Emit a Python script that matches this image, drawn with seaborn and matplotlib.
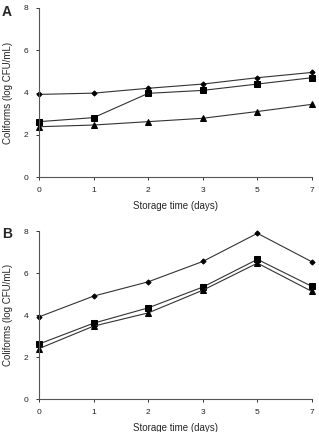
import pandas as pd
import matplotlib
matplotlib.use('Agg')
import matplotlib.pyplot as plt
import seaborn as sns

# storage days (shown as evenly spaced categories)
days = ['0', '1', '2', '3', '5', '7']

# panel A
a_diamond = [3.91, 3.97, 4.20, 4.40, 4.70, 4.95]
a_square = [2.62, 2.81, 3.96, 4.10, 4.40, 4.70]
a_triangle = [2.38, 2.46, 2.62, 2.78, 3.10, 3.44]

# panel B
b_diamond = [3.91, 4.90, 5.58, 6.55, 7.89, 6.53]
b_square = [2.62, 3.61, 4.34, 5.33, 6.65, 5.36]
b_triangle = [2.40, 3.47, 4.10, 5.18, 6.47, 5.12]

sns.set_style('ticks')
plt.rcParams['font.family'] = ['Liberation Sans', 'DejaVu Sans']


def long_df(d, s, t):
    rows = []
    for name, vals in [('d', d), ('s', s), ('t', t)]:
        for day, v in zip(days, vals):
            rows.append({'day': day, 'cfu': v, 'series': name})
    return pd.DataFrame(rows)


fig = plt.figure(figsize=(3.19, 4.32), dpi=100)
ax_a = fig.add_axes([39 / 319, 1 - 177 / 432, 273 / 319, 169 / 432])
ax_b = fig.add_axes([39 / 319, 1 - 399 / 432, 273 / 319, 168 / 432])

markers = {'d': 'D', 's': 's', 't': '^'}
sizes = {'d': 2.6, 's': 5, 't': 3.8}

for ax, data, letter, ly in [(ax_a, long_df(a_diamond, a_square, a_triangle), 'A', 12),
                             (ax_b, long_df(b_diamond, b_square, b_triangle), 'B', 234)]:
    for name in ['d', 's', 't']:
        sub = data[data['series'] == name]
        sns.lineplot(data=sub, x='day', y='cfu', ax=ax, color='#333333',
                     linewidth=0.8, marker=markers[name],
                     markersize=sizes[name], markeredgecolor='black',
                     markerfacecolor='black', sort=False, clip_on=False)
    ax.set_xlim(0, len(days) - 1)
    ax.set_ylim(0, 8)
    ax.set_yticks([0, 2, 4, 6, 8])
    ax.set_xlabel('Storage time (days)', fontsize=7, labelpad=5)
    ax.set_ylabel('Coliforms (log CFU/mL)', fontsize=7, labelpad=8)
    ax.tick_params(labelsize=6, length=2.5, width=0.7, colors='#333333',
                   labelcolor='#222222', pad=5)
    for sp in ['left', 'bottom']:
        ax.spines[sp].set_color('#555555')
        ax.spines[sp].set_linewidth(0.8)
    sns.despine(ax=ax)
    fig.text(2 / 319, 1 - ly / 432, letter, fontsize=10, fontweight='bold',
             ha='left', va='center')

fig.savefig('out.png', dpi=100)
